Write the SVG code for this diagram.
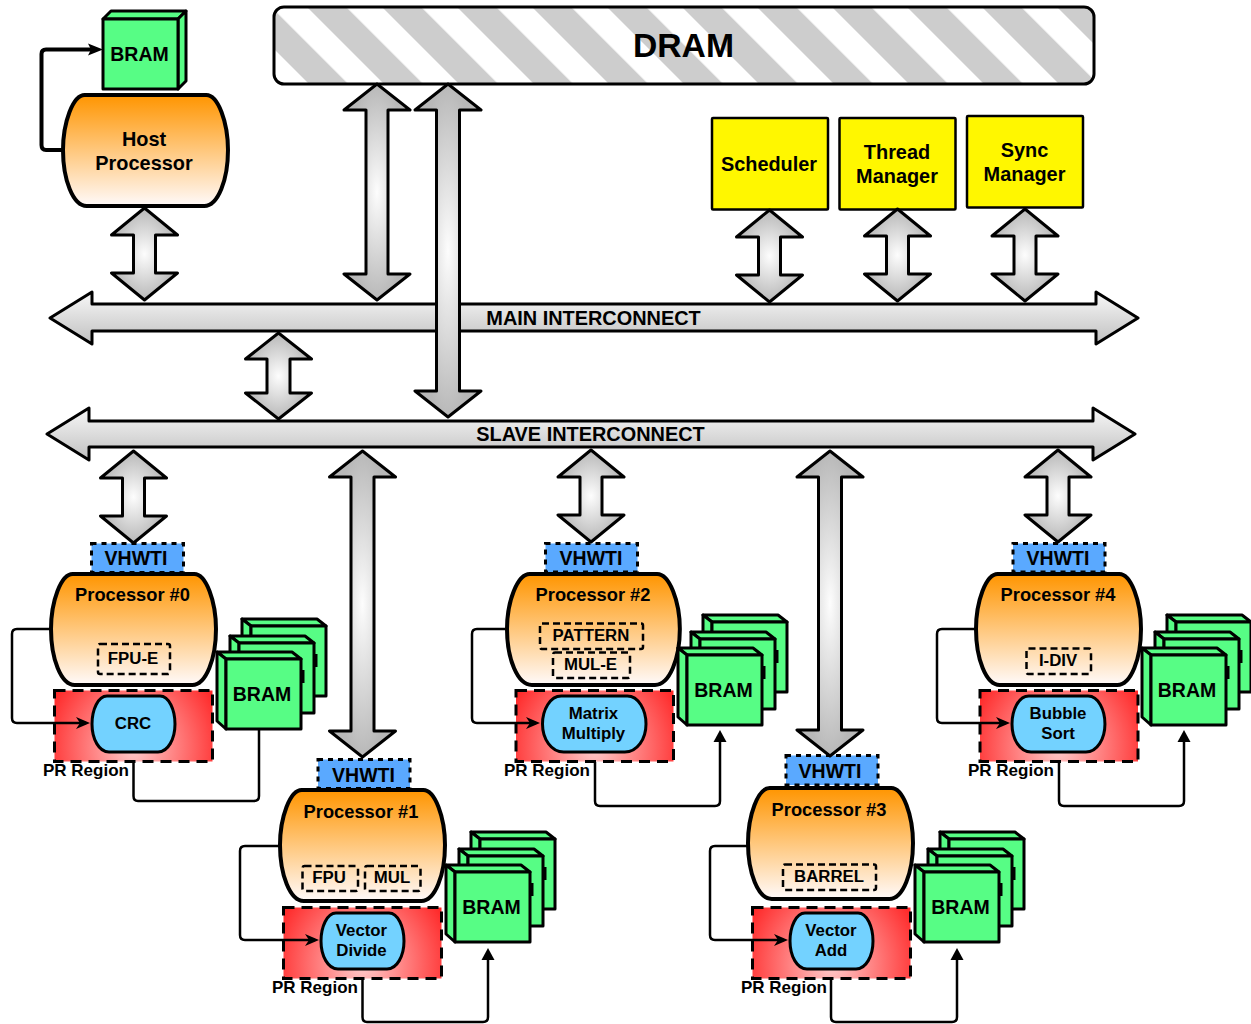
<svg xmlns="http://www.w3.org/2000/svg" width="1251" height="1024" viewBox="0 0 1251 1024">
<style>
text{font-family:"Liberation Sans",Arial,sans-serif;font-weight:bold;fill:#000;text-anchor:middle}
.t19{font-size:19.9px}.tb{font-size:19.5px}.t17{font-size:18.3px}.t16{font-size:16.8px}
.pr-label{font-size:17px;text-anchor:start}
.dbl{fill:url(#gArrow);stroke:#000;stroke-width:3;stroke-linejoin:round}
.bus{fill:url(#gBus);stroke:#000;stroke-width:3;stroke-linejoin:round}
.wire{fill:none;stroke:#000;stroke-width:2.5;stroke-linejoin:round}
.wire-thick{fill:none;stroke:#000;stroke-width:4;stroke-linejoin:round}
.yellow{fill:#fff700;stroke:#000;stroke-width:2.5}
.vhwti{fill:#5aa9ff;stroke:#000;stroke-width:3;stroke-dasharray:5 5}
.unit{fill:none;stroke:#000;stroke-width:2.5;stroke-dasharray:7 4}
.pr{fill:url(#gPR);stroke:#000;stroke-width:3;stroke-dasharray:11 7}
.b{fill:#57fd85;stroke:#000;stroke-width:3;stroke-linejoin:round}
</style>
<defs>
<linearGradient id="gOrange" x1="0" y1="0" x2="0" y2="1"><stop offset="0" stop-color="#ff9500"/><stop offset="1" stop-color="#fffafa"/></linearGradient>
<linearGradient id="gBus" x1="0" y1="0" x2="0" y2="1"><stop offset="0" stop-color="#f8f8f8"/><stop offset="1" stop-color="#c0c0c0"/></linearGradient>
<radialGradient id="gArrow" cx=".5" cy=".5" r=".5"><stop offset="0" stop-color="#fdfdfd"/><stop offset="1" stop-color="#b8b8b8"/></radialGradient>
<radialGradient id="gPR" cx=".5" cy=".8" r=".58" gradientTransform="translate(0,.8) scale(1,2.4) translate(0,-.8)"><stop offset="0" stop-color="#ffcccc"/><stop offset="1" stop-color="#ff2a2a"/></radialGradient>
<pattern id="stripes" patternUnits="userSpaceOnUse" width="53.03" height="53.03" patternTransform="rotate(45)"><rect width="53.03" height="53.03" fill="#fff"/><rect y="25.3" width="53.03" height="28.3" fill="#cdcdcd"/></pattern>
<marker id="mBarb" markerUnits="userSpaceOnUse" markerWidth="18" markerHeight="16" refX="10" refY="8" orient="auto"><path d="M0,2 L14,8 L0,14 L4,8Z" fill="#000"/></marker>
<marker id="mBarbBig" markerUnits="userSpaceOnUse" markerWidth="18" markerHeight="16" refX="9" refY="8" orient="auto"><path d="M0,2 L15,8 L0,14 L3,8Z" fill="#000"/></marker>
<marker id="mTri" markerUnits="userSpaceOnUse" markerWidth="16" markerHeight="16" refX="8" refY="7" orient="auto"><path d="M0,0.5 L12,7 L0,13.5Z" fill="#000"/></marker>
<path id="procShape" vector-effect="non-scaling-stroke" fill="url(#gOrange)" stroke="#000" stroke-width="4" d="M22,0 H145 C157,0 167,28 167,56 C167,86 157,113 143,113 H24 C10,113 0,86 0,56 C0,28 10,0 22,0Z"/>
<path id="pfShape" vector-effect="non-scaling-stroke" fill="#73d2ff" stroke="#000" stroke-width="3" d="M15,0 H68 C77,0 83,14 83,28 C83,43 76,56 66,56 H17 C7,56 0,43 0,28 C0,14 6,0 15,0Z"/>
<path id="short" class="dbl" d="M0,0 L33,27 H11 V65 H33 L0,92 L-33,65 H-11 V27 H-33Z"/>
<g id="bramOne">
<path class="b" d="M0,0 L-9,-7 H66 L75,0Z"/><path class="b" d="M0,0 L-9,-7 V62 L0,70Z"/><rect class="b" width="75" height="70"/>
</g>
<g id="bramStack">
<use href="#bramOne" x="25" y="-33"/>
<path d="M90,-5 V8" stroke="#000" stroke-width="3"/>
<use href="#bramOne" x="13" y="-16"/>
<path d="M77,11 V24" stroke="#000" stroke-width="3"/>
<use href="#bramOne"/>
</g>
</defs>

<g id="dram"><rect x="274" y="7" width="820" height="77" rx="10" fill="url(#stripes)" stroke="#000" stroke-width="3"/><text x="683.5" y="57" font-size="33.7">DRAM</text></g>

<g id="main-interconnect"><path class="bus" d="M50,318 L92,292 V304 H1096 V292 L1138,318 L1096,344 V331 H92 V344Z"/><text class="t19" x="593.5" y="325">MAIN INTERCONNECT</text></g>
<g id="slave-interconnect"><path class="bus" d="M47,434 L89,408 V421 H1093 V408 L1135,434 L1093,460 V447 H89 V460Z"/><text class="t19" x="590.5" y="441">SLAVE INTERCONNECT</text></g>

<g id="host-bram"><path class="b" d="M103,19 L111,11 H186 L178,19Z"/><path class="b" d="M178,19 L186,11 V81 L178,89Z"/><rect class="b" x="103" y="19" width="75" height="70"/><text class="tb" x="139.500" y="61">BRAM</text></g>
<g id="host-processor"><use href="#procShape" transform="translate(63,95) scale(.988,.982)"/><text class="t19" x="144" y="146">Host</text><text class="t19" x="144" y="170">Processor</text></g>

<g id="scheduler"><rect class="yellow" x="712" y="118" width="116" height="91.500" rx="1"/><text class="t19" x="769" y="171">Scheduler</text></g>
<g id="thread-manager"><rect class="yellow" x="839.500" y="118" width="116" height="91.500" rx="1"/><text class="t19" x="897" y="159">Thread</text><text class="t19" x="897" y="183">Manager</text></g>
<g id="sync-manager"><rect class="yellow" x="967" y="116" width="116" height="91.500" rx="1"/><text class="t19" x="1024.500" y="157">Sync</text><text class="t19" x="1024.500" y="181">Manager</text></g>

<g id="processor-0">
<rect class="vhwti" x="91.500" y="543.500" width="92" height="29"/><text class="tb" x="136" y="564.500">VHWTI</text>
<use href="#procShape" transform="translate(51,574) scale(.988,.982)"/><text class="t17" x="132.500" y="601">Processor #0</text>
<rect class="unit" x="98" y="644" width="72" height="30" rx="2"/><text class="t16" x="133" y="664">FPU-E</text>
<rect class="pr" x="54.500" y="690.500" width="158" height="71"/>
<use href="#pfShape" transform="translate(92,696)"/><text class="t16" x="133" y="729">CRC</text>
<text class="pr-label" x="43" y="776">PR Region</text>
<use href="#bramStack" x="226" y="659"/><text class="tb" x="262" y="701">BRAM</text>
</g>

<g id="processor-1">
<rect class="vhwti" x="318" y="759.500" width="92" height="29"/><text class="tb" x="363.500" y="782">VHWTI</text>
<use href="#procShape" transform="translate(280,790) scale(.988,.982)"/><text class="t17" x="361" y="818">Processor #1</text>
<rect class="unit" x="302.500" y="866" width="55.500" height="25" rx="2"/><text class="t16" x="329" y="883">FPU</text>
<rect class="unit" x="365" y="866" width="55.500" height="25" rx="2"/><text class="t16" x="392" y="883">MUL</text>
<rect class="pr" x="283.500" y="907.500" width="158" height="71"/>
<use href="#pfShape" transform="translate(321,913)"/><text class="t16" x="361.500" y="936">Vector</text><text class="t16" x="361.500" y="956">Divide</text>
<text class="pr-label" x="272" y="993">PR Region</text>
<use href="#bramStack" x="455" y="872"/><text class="tb" x="491.500" y="914">BRAM</text>
</g>

<g id="processor-2">
<rect class="vhwti" x="545.500" y="543.500" width="92" height="28.500"/><text class="tb" x="591" y="565">VHWTI</text>
<use href="#procShape" transform="translate(507,574) scale(1.035,.982)"/><text class="t17" x="593" y="601">Processor #2</text>
<rect class="unit" x="540" y="623.500" width="103" height="25.500" rx="2"/><text class="t16" x="591" y="641">PATTERN</text>
<rect class="unit" x="553" y="652.500" width="77" height="25.500" rx="2"/><text class="t16" x="590.500" y="670">MUL-E</text>
<rect class="pr" x="516" y="690.500" width="157.500" height="71"/>
<use href="#pfShape" transform="translate(542.500,696) scale(1.247,1)"/><text class="t16" x="593.500" y="719">Matrix</text><text class="t16" x="593.500" y="739">Multiply</text>
<text class="pr-label" x="504" y="776">PR Region</text>
<use href="#bramStack" x="687" y="655"/><text class="tb" x="723.500" y="697">BRAM</text>
</g>

<g id="processor-3">
<rect class="vhwti" x="786" y="755.500" width="92" height="29.500"/><text class="tb" x="830" y="777.500">VHWTI</text>
<use href="#procShape" transform="translate(748,788) scale(.988,.982)"/><text class="t17" x="829" y="816">Processor #3</text>
<rect class="unit" x="783" y="864.500" width="93" height="25.500" rx="2"/><text class="t16" x="829" y="882">BARREL</text>
<rect class="pr" x="752.500" y="907.500" width="158" height="71"/>
<use href="#pfShape" transform="translate(790,913)"/><text class="t16" x="831" y="936">Vector</text><text class="t16" x="831" y="956">Add</text>
<text class="pr-label" x="741" y="993">PR Region</text>
<use href="#bramStack" x="924" y="872"/><text class="tb" x="960.500" y="914">BRAM</text>
</g>

<g id="processor-4">
<rect class="vhwti" x="1013" y="543.500" width="92" height="28.500"/><text class="tb" x="1058" y="565">VHWTI</text>
<use href="#procShape" transform="translate(976,574) scale(.988,.982)"/><text class="t17" x="1058" y="600.500">Processor #4</text>
<rect class="unit" x="1026.500" y="648.500" width="64.500" height="25.500" rx="2"/><text class="t16" x="1058" y="666">I-DIV</text>
<rect class="pr" x="980" y="690.500" width="158" height="71"/>
<use href="#pfShape" transform="translate(1012,696) scale(1.12,1)"/><text class="t16" x="1058" y="719">Bubble</text><text class="t16" x="1058" y="739">Sort</text>
<text class="pr-label" x="968" y="776">PR Region</text>
<use href="#bramStack" x="1151" y="655"/><text class="tb" x="1187" y="697">BRAM</text>
</g>

<g id="connectors">
<use href="#short" x="144.500" y="208"/>
<path class="dbl" d="M377,84 L410,110 H388 V274 H410 L377,300 L344,274 H366 V110 H344Z"/>
<path class="dbl" d="M448,84 L481,110 H459.500 V391 H481 L448,417 L415,391 H436.500 V110 H415Z"/>
<path class="dbl" d="M278.500,333 L311.500,359 H290 V393 H311.500 L278.500,419 L245.500,393 H267 V359 H245.500Z"/>
<use href="#short" x="769.500" y="210"/>
<use href="#short" x="897.500" y="209"/>
<use href="#short" x="1025" y="209"/>
<use href="#short" x="133.500" y="451"/>
<use href="#short" x="591" y="450"/>
<use href="#short" x="1058" y="450"/>
<path class="dbl" d="M362.500,451 L395.500,477 H374 V731 H395.500 L362.500,757 L329.500,731 H351 V477 H329.500Z"/>
<path class="dbl" d="M830,451 L863,477 H841.500 V730 H863 L830,756 L797,730 H818.500 V477 H797Z"/>
<path class="wire-thick" marker-end="url(#mBarbBig)" d="M62,150 H46 Q41.500,150 41.500,145 V54 Q41.500,49.500 46,49.500 H97"/>
<path class="wire" marker-end="url(#mBarb)" d="M50,629 H17 Q12,629 12,634 V718 Q12,723 17,723 H86"/>
<path class="wire" d="M133.500,762 V796 Q133.500,801 138,801 H254 Q259,801 259,796 V729"/>
<path class="wire" marker-end="url(#mBarb)" d="M279,846 H245 Q240,846 240,851 V935 Q240,940 245,940 H315"/>
<path class="wire" marker-end="url(#mTri)" d="M362.500,979 V1017 Q362.500,1022 367,1022 H483 Q488,1022 488,1017 V952"/>
<path class="wire" marker-end="url(#mBarb)" d="M506,629 H477 Q472,629 472,634 V718 Q472,723 477,723 H536"/>
<path class="wire" marker-end="url(#mTri)" d="M595,762 V801 Q595,806 600,806 H715 Q720,806 720,801 V734"/>
<path class="wire" marker-end="url(#mBarb)" d="M747,846 H715 Q710,846 710,851 V935 Q710,940 715,940 H784"/>
<path class="wire" marker-end="url(#mTri)" d="M831,979 V1017 Q831,1022 836,1022 H952 Q957,1022 957,1017 V952"/>
<path class="wire" marker-end="url(#mBarb)" d="M975,629 H942 Q937,629 937,634 V718 Q937,723 942,723 H1006"/>
<path class="wire" marker-end="url(#mTri)" d="M1059,762 V801 Q1059,806 1064,806 H1179 Q1184,806 1184,801 V734"/>
</g>
</svg>
